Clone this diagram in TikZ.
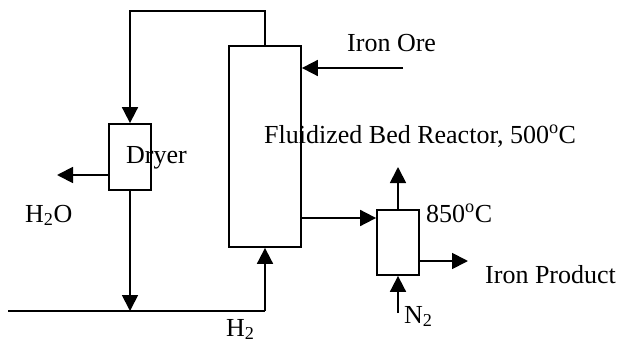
\documentclass[tikz,border=0pt]{standalone}
\usepackage{fontspec}
\setmainfont{Liberation Serif}
\usetikzlibrary{arrows.meta}
\begin{document}
\begin{tikzpicture}[x=1pt,y=-1pt,
  unit/.style={draw,line width=1.8pt,rectangle,inner sep=0pt},
  flow/.style={line width=1.8pt},
  arr/.style={flow,-{Triangle[length=16pt,width=16pt]}},
  lbl/.style={inner sep=0pt,font=\fontsize{26}{30}\selectfont}]
\useasboundingbox (0,0) rectangle (621,345);
% units
\node[unit,minimum width=72pt,minimum height=201pt] (reactor) at (265,146.5) {};
\node[unit,minimum width=42pt,minimum height=66pt] (dryer) at (130,157) {};
\node[unit,minimum width=42pt,minimum height=65pt] (cooler) at (398,242.5) {};
% coordinates
\coordinate (tr) at (265,11);
\coordinate (tl) at (130,11);
\coordinate (bl) at (8,311);
\coordinate (br) at (265,311);
\coordinate (h2oend) at (57,175);
\coordinate (ore) at (403,68);
\coordinate (outy) at (0,218);
\coordinate (gasend) at (398,167);
\coordinate (n2start) at (398,313);
\coordinate (prod) at (468,261);
% connectors
\draw[arr] (reactor.north) -- (tr) -- (tl) -- (dryer.north);
\draw[arr] (dryer.west |- h2oend) -- (h2oend);
\draw[arr] (dryer.south) -- (dryer.south |- bl);
\draw[flow] (bl) -- (br);
\draw[arr] (br) -- (reactor.south);
\draw[arr] (ore) -- (ore -| reactor.east);
\draw[arr] (reactor.east |- outy) -- (cooler.west |- outy);
\draw[arr] (cooler.north) -- (gasend);
\draw[arr] (n2start) -- (cooler.south);
\draw[arr] (cooler.east |- prod) -- (prod);
% labels
\node[lbl,anchor=base west] (tdryer) at (126,163) {Dryer};
\node[lbl,anchor=base west] (th2o) at (25,222) {H\textsubscript{2}O};
\node[lbl,anchor=base west] (th2) at (226,336) {H\textsubscript{2}};
\node[lbl,anchor=base west] (tore) at (347,52) {Iron Ore};
\node[lbl,anchor=base west] (treac) at (264,143) {Fluidized Bed Reactor, 500\textsuperscript{o}C};
\node[lbl,anchor=base west] (t850) at (426,222) {850\textsuperscript{o}C};
\node[lbl,anchor=base west] (tprod) at (485,283) {Iron Product};
\node[lbl,anchor=base west] (tn2) at (404,323) {N\textsubscript{2}};
\end{tikzpicture}
\end{document}
